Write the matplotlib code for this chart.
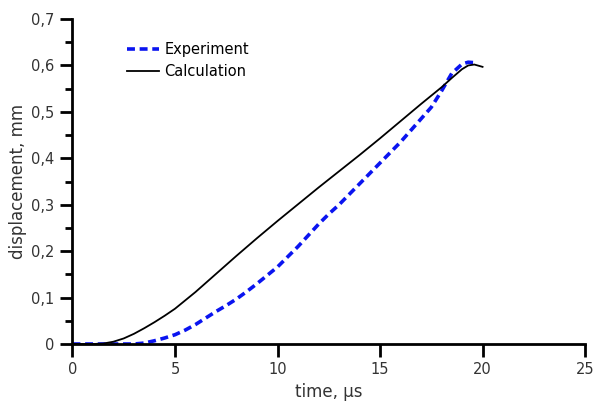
import numpy as np
import matplotlib
matplotlib.use('Agg')
from matplotlib import pyplot as plt
from matplotlib.ticker import FuncFormatter, MultipleLocator

# calculation curve
t_calc = [0, 1, 1.5, 2, 2.5, 3, 3.5, 4, 4.5, 5, 6, 7, 8, 9, 10, 11, 12, 13, 14,
          15, 16, 17, 18, 18.5, 19, 19.3, 19.6, 20]
d_calc = [0, 0, 0.001, 0.005, 0.012, 0.022, 0.034, 0.047, 0.061, 0.076, 0.112,
          0.151, 0.19, 0.228, 0.265, 0.301, 0.337, 0.372, 0.407, 0.443, 0.48,
          0.517, 0.553, 0.573, 0.592, 0.6, 0.602, 0.597]

# experiment curve
t_exp = [0, 1, 2, 3, 3.5, 4, 4.5, 5, 5.5, 6, 6.5, 7, 7.5, 8, 8.5, 9, 10, 11, 12,
         12.5, 13, 14, 15, 16, 16.5, 17, 17.5, 18, 18.5, 19, 19.3, 19.6]
d_exp = [0, 0, 0, 0, 0.002, 0.007, 0.013, 0.02, 0.03, 0.042, 0.056, 0.07, 0.083,
         0.097, 0.113, 0.13, 0.166, 0.21, 0.258, 0.28, 0.3, 0.345, 0.39, 0.435,
         0.46, 0.485, 0.51, 0.545, 0.583, 0.603, 0.607, 0.606]

plt.rcParams['font.family'] = ['DejaVu Sans']
plt.rcParams['font.size'] = 10

fig = plt.figure(figsize=(5.97, 4.05), dpi=100)
ax = fig.add_axes([0.1214, 0.1506, 0.8586, 0.8024])

ax.plot(t_exp, d_exp, '--', color='#0a14f0', lw=2.6, dashes=(2.2, 1.3),
        label='Experiment')
ax.plot(t_calc, d_calc, '-', color='black', lw=1.3, label='Calculation')

ax.set_xlim(0, 25)
ax.set_ylim(0, 0.7)
ax.xaxis.set_major_locator(MultipleLocator(5))
ax.yaxis.set_major_locator(MultipleLocator(0.1))
ax.yaxis.set_minor_locator(MultipleLocator(0.05))


def comma(v, pos):
    if abs(v) < 1e-9:
        return '0'
    return ('%.1f' % v).replace('.', ',')


ax.yaxis.set_major_formatter(FuncFormatter(comma))

for s in ['top', 'right']:
    ax.spines[s].set_visible(False)
for s in ['left', 'bottom']:
    ax.spines[s].set_linewidth(2)
ax.tick_params(axis='both', direction='out', width=2, length=9, colors='black',
               labelcolor='#333333', labelsize=10.5, pad=4)
ax.tick_params(axis='y', which='minor', width=2, length=5)

ax.set_xlabel('time, µs', fontsize=12, color='#333333', labelpad=4)
ax.set_ylabel('displacement, mm', fontsize=12, color='#333333', labelpad=3)

ax.legend(loc='upper left', bbox_to_anchor=(0.08, 0.97), frameon=False,
          fontsize=10.5, handlelength=2.2, handletextpad=0.4, labelspacing=0.5)

fig.savefig('out.png', dpi=100)
